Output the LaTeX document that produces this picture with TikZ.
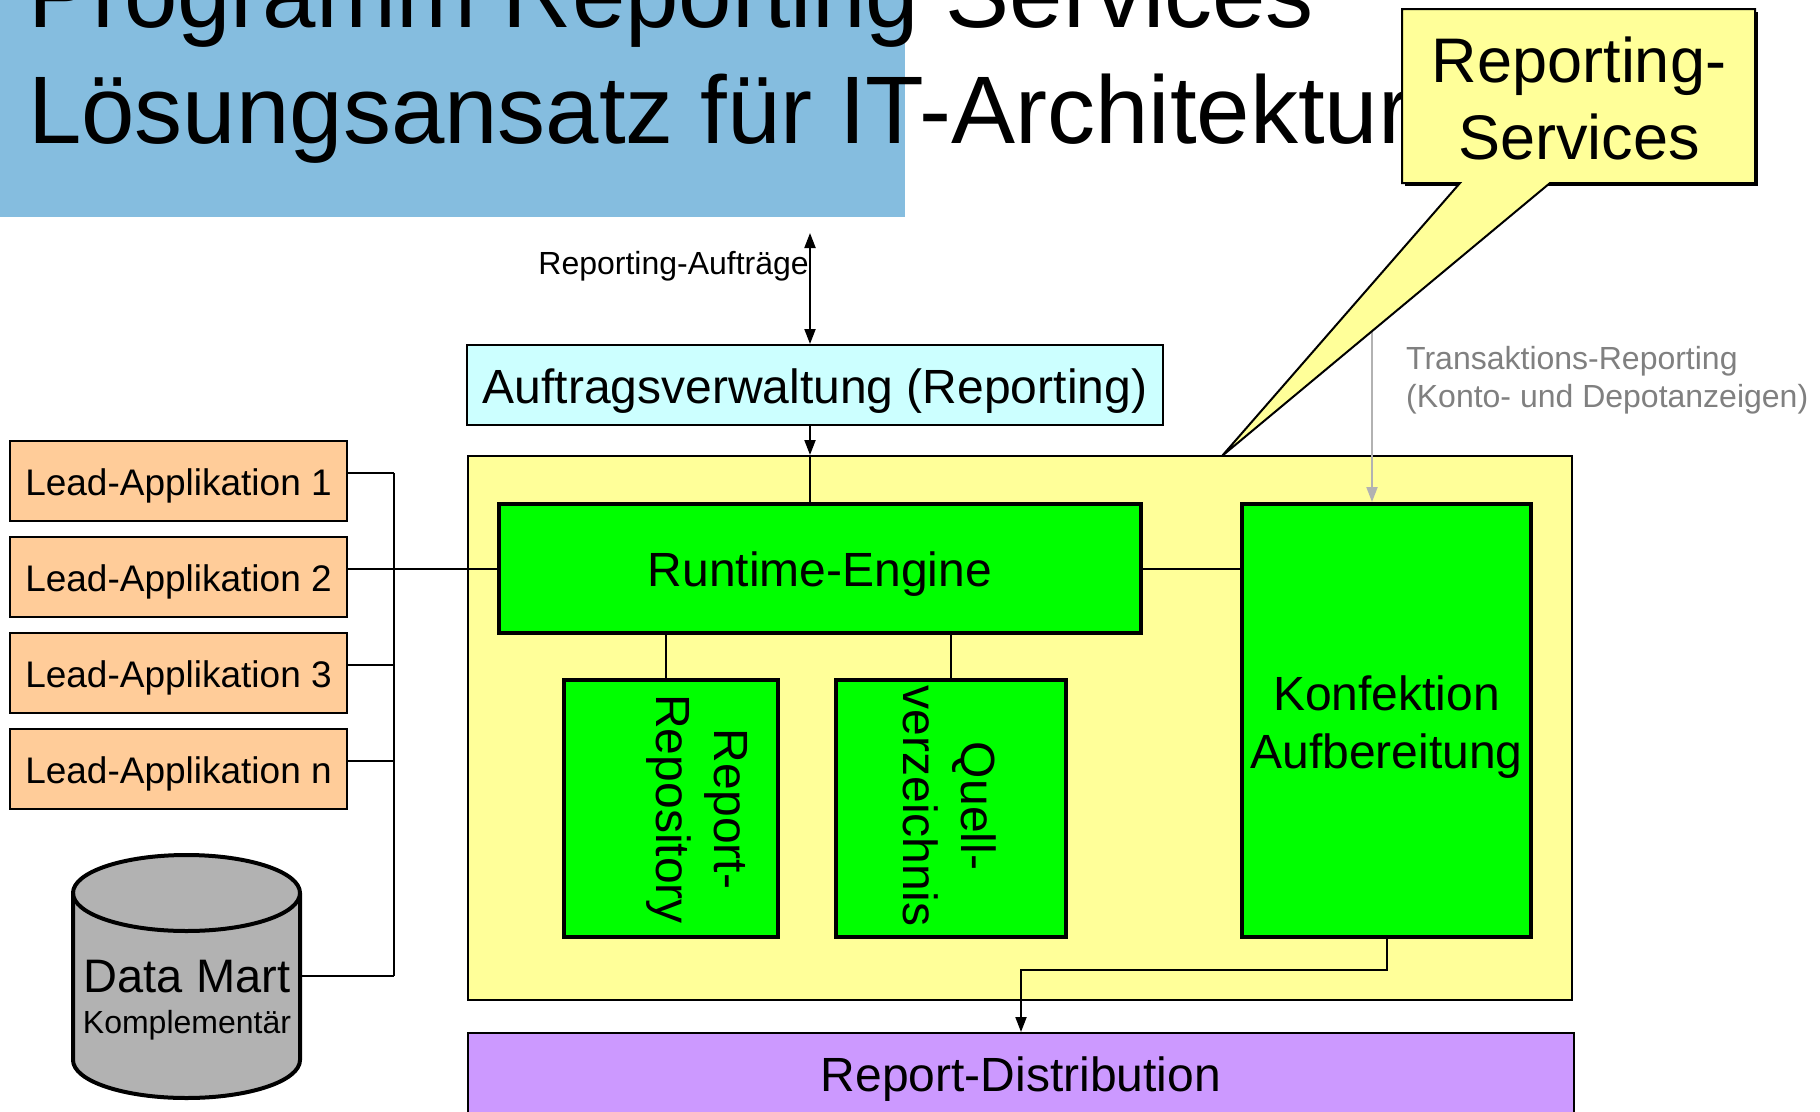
\documentclass[tikz,border=0pt]{standalone}
\usepackage{fontspec}
\setmainfont{Liberation Sans}
\usetikzlibrary{arrows.meta,calc}
\definecolor{titleblue}{RGB}{133,189,223}
\definecolor{avcyan}{RGB}{204,255,255}
\definecolor{ctyellow}{RGB}{255,255,153}
\definecolor{bgreen}{RGB}{0,255,0}
\definecolor{leadorange}{RGB}{255,204,153}
\definecolor{dmgray}{RGB}{178,178,178}
\definecolor{rdpurple}{RGB}{204,153,255}
\definecolor{txgray}{RGB}{128,128,128}
\definecolor{argray}{RGB}{178,178,178}
\newcommand\setfs[2]{\fontsize{#1}{#2}\selectfont}
\begin{document}
\begin{tikzpicture}[x=1pt,y=-1pt,
  thinline/.style={line width=2pt},
  tipend/.style={-{Triangle[length=15pt,width=11pt]}},
  bothends/.style={{Triangle[length=15pt,width=11pt]}-{Triangle[length=15pt,width=11pt]}},
  lowtext/.style={text height=36.5pt, text depth=0pt},
  greenbox/.style={draw, line width=4pt, fill=bgreen, inner sep=0pt},
  leadbox/.style={draw, line width=2.5pt, fill=leadorange, inner sep=0pt,
    text height=28.2pt, text depth=0pt,
    minimum width=337pt, minimum height=80pt, font=\setfs{37}{44}},
]
\useasboundingbox (0,0) rectangle (1820,1111);

% title background and title
\fill[titleblue] (0,0) rectangle (905,217);
\node[anchor=base west, inner sep=0pt, font=\setfs{96}{116}] (t1) at (28,27) {Programm Reporting Services};
\node[anchor=base west, inner sep=0pt, font=\setfs{96}{116}] (t2) at (28,143) {Lösungsansatz für IT-Architektur};

% container
\node[draw, thinline, fill=ctyellow, minimum width=1104pt, minimum height=544pt, inner sep=0pt] (ct) at (1020,728) {};

% Auftragsverwaltung
\node[draw, thinline, fill=avcyan, minimum width=696pt, minimum height=80pt, inner sep=0pt, lowtext, font=\setfs{48}{58}] (av) at (815,385) {Auftragsverwaltung (Reporting)};

% Reporting-Auftraege arrow
\coordinate (rtop) at (810,233);
\draw[thinline, bothends] (rtop) -- (rtop |- av.north);
\node[anchor=base east, inner sep=0pt, font=\setfs{32}{38}] (ra) at (809,274) {Reporting-Aufträge};

% green boxes
\node[greenbox, minimum width=642pt, minimum height=129pt, lowtext, font=\setfs{48}{58}] (re) at (820,568.5) {Runtime-Engine};
\node[greenbox, minimum width=214pt, minimum height=257pt] (rr) at (671,808.5) {};
\node[greenbox, minimum width=230pt, minimum height=257pt] (qv) at (951,808.5) {};
\node[greenbox, minimum width=289pt, minimum height=433pt] (kf) at (1386.5,720.5) {};
\node[align=center, inner sep=0pt, font=\setfs{48}{58}] (kft) at (1386.5,727.5) {Konfektion\\Aufbereitung};
\node[rotate=-90, align=center, inner sep=0pt, font=\setfs{48}{58}] (rrt) at (697,809) {Report-\\Repository};
\node[rotate=-90, align=center, inner sep=0pt, font=\setfs{48}{58}] (qvt) at (950,806) {Quell-\\verzeichnis};

% connectors inside
\draw[thinline, tipend] (av.south -| rtop) -- (ct.north -| rtop);
\draw[thinline] (ct.north -| rtop) -- (re.north -| rtop);
\draw[thinline] ([xshift=-5pt]rr.north) -- ([xshift=-5pt]rr.north |- re.south);
\draw[thinline] (qv.north) -- (qv.north |- re.south);
\draw[thinline] (re.east) -- (kf.west |- re.east);

% lead applications
\node[leadbox] (l1) at (178.5,481) {Lead-Applikation 1};
\node[leadbox] (l2) at (178.5,577) {Lead-Applikation 2};
\node[leadbox] (l3) at (178.5,673) {Lead-Applikation 3};
\node[leadbox] (ln) at (178.5,769) {Lead-Applikation n};

% data mart cylinder
\filldraw[fill=dmgray, line width=4pt] (73,893) -- (73,1060)
  arc[start angle=180, end angle=360, x radius=113.5pt, y radius=38pt]
  -- (300,893)
  arc[start angle=0, end angle=180, x radius=113.5pt, y radius=38pt] -- cycle;
\draw[line width=4pt] (73,893) arc[start angle=180, end angle=360, x radius=113.5pt, y radius=38pt];
\node[inner sep=0pt, font=\setfs{47}{56}] (dm1) at (187,977) {Data Mart};
\node[inner sep=0pt, font=\setfs{32}{38}] (dm2) at (187,1025) {Komplementär};
\coordinate (dmr) at (300,976);

% bus
\coordinate (b1) at (394,473);
\coordinate (b3) at (394,665);
\coordinate (bn) at (394,761);
\coordinate (bb) at (394,976);
\draw[thinline] (b1) -- (bb);
\draw[thinline] (l1.east |- b1) -- (b1);
\draw[thinline] (l2.east |- re.west) -- (re.west);
\draw[thinline] (l3.east |- b3) -- (b3);
\draw[thinline] (ln.east |- bn) -- (bn);
\draw[thinline] (dmr) -- (bb);

% report distribution
\node[draw, thinline, fill=rdpurple, minimum width=1106pt, minimum height=88pt, inner sep=0pt, text height=36.5pt, text depth=7.7pt, font=\setfs{48}{58}] (rd) at (1021,1077) {Report-Distribution};
\draw[thinline, tipend] (kf.south) -- ++(0,31) -| (rd.north);

% transaction reporting
\coordinate (gs) at (1372,300);
\draw[line width=2pt, argray, -{Triangle[length=15pt,width=11pt]}] (gs) -- (gs |- kf.north);
\node[anchor=west, inner sep=0pt, align=left, text=txgray, font=\setfs{32}{38}] (tr) at (1406,380) {Transaktions-Reporting\\(Konto- und Depotanzeigen)};

% callout
\fill[black] (1405,12) -- (1758,12) -- (1758,186) -- (1405,186) -- cycle;
\filldraw[fill=ctyellow, thinline] (1402,9) -- (1755,9) -- (1755,183) -- (1550,183) -- (1222,456) -- (1460,183) -- (1402,183) -- cycle;
\node[align=center, inner sep=0pt, font=\setfs{63}{77}] (cs) at (1579,98) {Reporting-\\Services};
\end{tikzpicture}
\end{document}
